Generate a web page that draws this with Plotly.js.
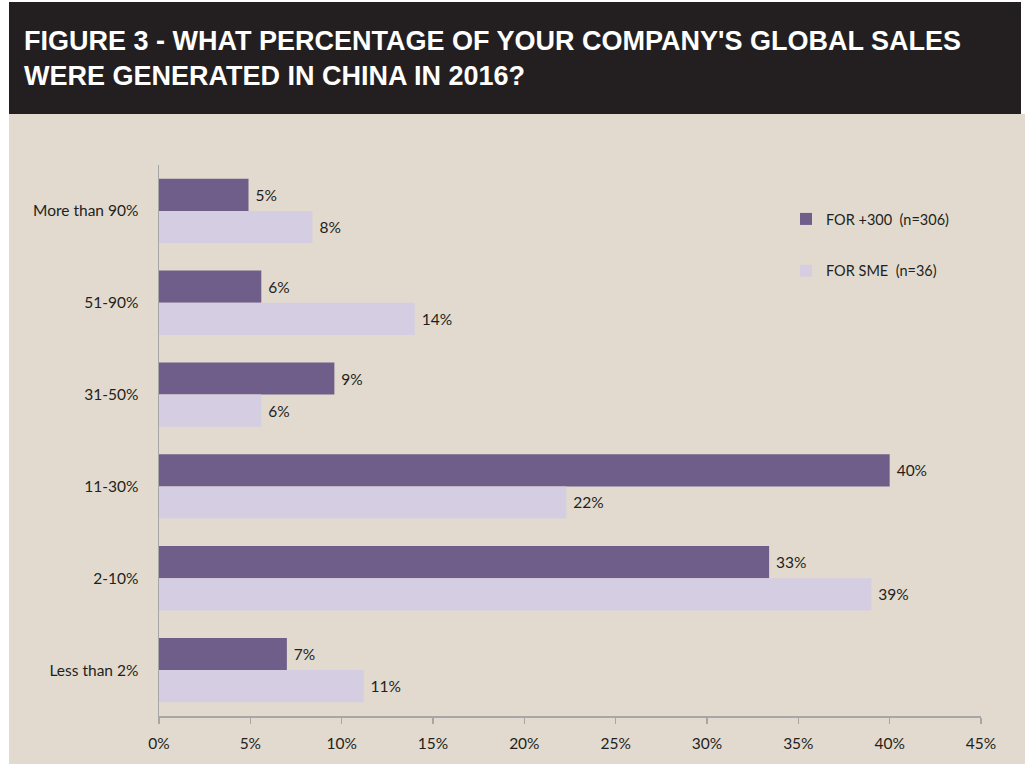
<!DOCTYPE html>
<html>
<head>
<meta charset="utf-8">
<script src="https://cdn.plot.ly/plotly-3.0.1.min.js"></script>
<style>
  html, body { margin: 0; padding: 0; background: #ffffff; }
  #chart { width: 1025px; height: 764px; }
</style>
</head>
<body>
<div id="chart"></div>
<script>
// Data
const categories = ["More than 90%", "51-90%", "31-50%", "11-30%", "2-10%", "Less than 2%"];
const seriesNames = ["FOR +300  (n=306)", "FOR SME  (n=36)"];
const valuesLarge = [4.9, 5.6, 9.6, 40.0, 33.4, 7.0];
const valuesSME = [8.4, 14.0, 5.6, 22.3, 39.0, 11.2];
const labelsLarge = ["5%", "6%", "9%", "40%", "33%", "7%"];
const labelsSME = ["8%", "14%", "6%", "22%", "39%", "11%"];
const xTickVals = [0, 5, 10, 15, 20, 25, 30, 35, 40, 45];
const xTickText = ["0%", "5%", "10%", "15%", "20%", "25%", "30%", "35%", "40%", "45%"];
const titleText = "FIGURE 3 - WHAT PERCENTAGE OF YOUR COMPANY'S GLOBAL SALES<br>WERE GENERATED IN CHINA IN 2016?";

const W = 1025, H = 764;
const M = { l: 159, r: 44, t: 165, b: 48 };
const pw = W - M.l - M.r, ph = H - M.t - M.b;
const px = x => (x - M.l) / pw;
const py = y => (H - M.b - y) / ph;

const FONT = "Lato, Open Sans, sans-serif";
const FS = 15.5;
const TXT = "#231f20";
const pad = s => "\u00a0" + s;

const traces = [
  {
    type: "bar", orientation: "h", name: seriesNames[0],
    y: categories, x: valuesLarge,
    text: labelsLarge.map(pad), textposition: "outside", cliponaxis: false,
    textfont: { family: FONT, size: FS, color: TXT },
    marker: { color: "#705e8a", line: { width: 0 } },
    legendgroup: "a", hoverinfo: "x+y"
  },
  {
    type: "bar", orientation: "h", name: seriesNames[1],
    y: categories, x: valuesSME,
    text: labelsSME.map(pad), textposition: "outside", cliponaxis: false,
    textfont: { family: FONT, size: FS, color: TXT },
    marker: { color: "#d5cde1", line: { width: 0 } },
    legendgroup: "b", hoverinfo: "x+y"
  }
];

const layout = {
  width: W, height: H,
  margin: M,
  paper_bgcolor: "#e2dacf",
  plot_bgcolor: "rgba(0,0,0,0)",
  barmode: "group", bargap: 0.30, bargroupgap: 0,
  font: { family: FONT, size: FS, color: TXT },
  title: {
    text: titleText,
    font: { family: "Liberation Sans, Arial, sans-serif", size: 27, color: "#ffffff", weight: "bold" },
    xref: "container", yref: "container",
    x: 24 / W, xanchor: "left",
    y: 1 - 50 / H, yanchor: "top",
    pad: { t: 0, b: 0, l: 0, r: 0 }
  },
  showlegend: true,
  legend: {
    x: px(786), xanchor: "left",
    y: py(203), yanchor: "top",
    traceorder: "grouped", tracegroupgap: 30,
    bgcolor: "rgba(0,0,0,0)",
    font: { family: FONT, size: FS - 1, color: TXT },
    itemwidth: 30
  },
  xaxis: {
    range: [0, 45],
    tickvals: xTickVals, ticktext: xTickText,
    showgrid: false, zeroline: false,
    showline: true, linecolor: "#a6a6a6", linewidth: 1.5,
    ticks: "outside", ticklen: 6, tickcolor: "#a6a6a6", tickwidth: 1.5,
    ticklabelstandoff: 7,
    tickfont: { family: FONT, size: FS, color: TXT },
    fixedrange: true
  },
  yaxis: {
    type: "category", autorange: "reversed",
    showgrid: false, zeroline: false,
    showline: true, linecolor: "#a6a6a6", linewidth: 1.5,
    ticks: "", ticklabelstandoff: 16,
    tickfont: { family: FONT, size: FS, color: TXT },
    fixedrange: true
  },
  shapes: [
    { type: "rect", xref: "paper", yref: "paper", layer: "below",
      x0: px(0), x1: px(W), y0: py(114), y1: py(0),
      fillcolor: "#ffffff", line: { width: 0 } },
    { type: "rect", xref: "paper", yref: "paper", layer: "below",
      x0: px(9), x1: px(1021), y0: py(114), y1: py(2),
      fillcolor: "#231f20", line: { width: 0 } },
    { type: "rect", xref: "paper", yref: "paper", layer: "below",
      x0: px(0), x1: px(9), y0: py(H), y1: py(114),
      fillcolor: "#ffffff", line: { width: 0 } }
  ]
};

Plotly.newPlot("chart", traces, layout, { displayModeBar: false, staticPlot: true });
</script>
</body>
</html>
